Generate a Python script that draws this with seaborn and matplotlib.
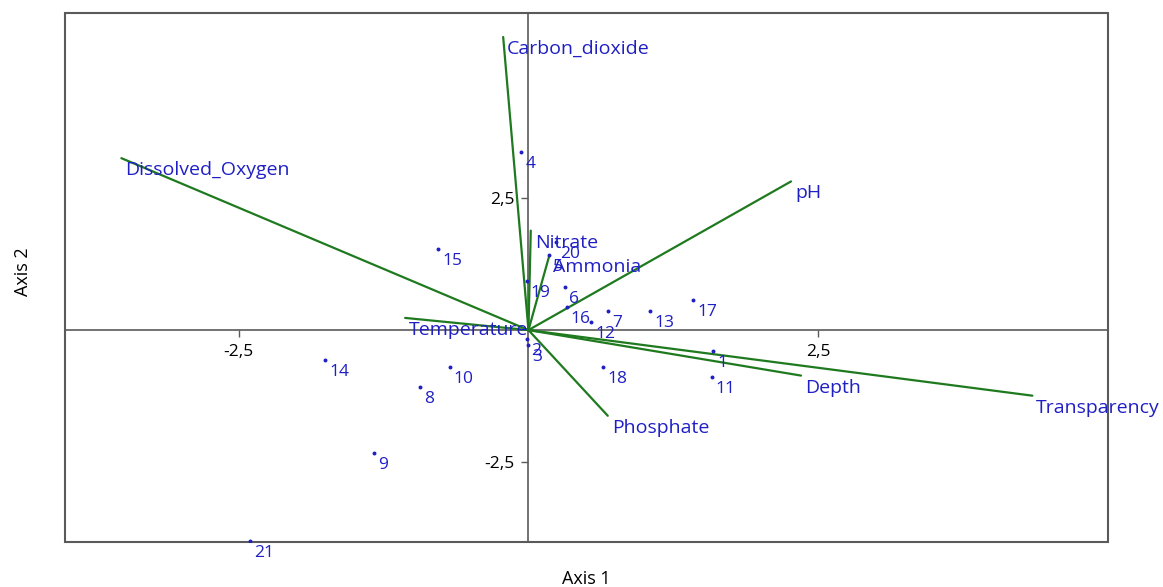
import numpy as np
import pandas as pd
import matplotlib
matplotlib.use("Agg")
import matplotlib.pyplot as plt
from matplotlib.patches import Rectangle
import seaborn as sns

# Sample scores on the first two principal axes
sample_ids = ["1", "2", "3", "4", "5", "6", "7", "8", "9", "10", "11",
              "12", "13", "14", "15", "16", "17", "18", "19", "20", "21"]
axis1_scores = [1.595, -0.014, 0.0, -0.063, 0.18, 0.316, 0.69, -0.934, -1.334, -0.68, 1.58,
                0.54, 1.049, -1.75, -0.776, 0.33, 1.42, 0.647, -0.014, 0.24, -2.40]
axis2_scores = [-0.39, -0.17, -0.28, 3.37, 1.41, 0.81, 0.36, -1.08, -2.32, -0.69, -0.88,
                0.15, 0.37, -0.57, 1.53, 0.44, 0.57, -0.70, 0.93, 1.67, -3.98]

# Variable loadings (biplot vectors)
variables = ["Carbon_dioxide", "Dissolved_Oxygen", "pH", "Nitrate", "Ammonia",
             "Temperature", "Phosphate", "Depth", "Transparency"]
axis1_loadings = [-0.218, -3.51, 2.264, 0.02, 0.18, -1.063, 0.684, 2.35, 4.345]
axis2_loadings = [5.54, 3.25, 2.81, 1.88, 1.41, 0.23, -1.62, -0.86, -1.24]

tick_values = [-2.5, 2.5]
tick_labels = ["-2,5", "2,5"]

label_blue = "#1f1fc4"
vector_green = "#1f7a1f"
axis_grey = "#5a5a5a"

sns.set_style("white")
plt.rcParams["font.family"] = ["Open Sans", "DejaVu Sans"]

fig = plt.figure(figsize=(11.63, 5.87), dpi=100)
ax = fig.add_axes([0.0555, 0.0772, 0.8975, 0.9012])

scores = pd.DataFrame({"id": sample_ids, "Axis 1": axis1_scores, "Axis 2": axis2_scores})

# Each vector is a two-point segment from the origin to its loading
segments = pd.DataFrame({
    "variable": np.repeat(variables, 2),
    "Axis 1": np.ravel(np.column_stack([np.zeros(len(variables)), axis1_loadings])),
    "Axis 2": np.ravel(np.column_stack([np.zeros(len(variables)), axis2_loadings])),
})

sns.lineplot(data=segments, x="Axis 1", y="Axis 2", units="variable",
             estimator=None, sort=False, color=vector_green, linewidth=1.6,
             ax=ax, zorder=3)
sns.scatterplot(data=scores, x="Axis 1", y="Axis 2", color=label_blue,
                s=8, linewidth=0, ax=ax, zorder=4)

for name, x, y in zip(variables, axis1_loadings, axis2_loadings):
    ax.annotate(name, (x, y), xytext=(4, -12), textcoords="offset pixels",
                ha="left", va="center", color=label_blue, fontsize=14,
                fontweight="medium", annotation_clip=False, zorder=5)

for sid, x, y in zip(sample_ids, axis1_scores, axis2_scores):
    ax.annotate(sid, (x, y), xytext=(4, -12), textcoords="offset pixels",
                ha="left", va="center", color=label_blue, fontsize=12.5,
                fontweight="medium", annotation_clip=False, zorder=5)

ax.set_xlim(-4, 5)
ax.set_ylim(-4, 6)

# Axes cross at the origin; an outer box frames the plot
for side in ["top", "right"]:
    ax.spines[side].set_visible(False)
for side in ["left", "bottom"]:
    ax.spines[side].set_position(("data", 0))
    ax.spines[side].set_color(axis_grey)
    ax.spines[side].set_linewidth(1.2)
    ax.spines[side].set_zorder(2)
ax.add_patch(Rectangle((0, 0), 1, 1, transform=ax.transAxes, fill=False,
                       edgecolor=axis_grey, linewidth=1.5, clip_on=False, zorder=1))

ax.set_xticks(tick_values, tick_labels)
ax.set_yticks(tick_values, tick_labels)
ax.tick_params(bottom=True, left=True, direction="out", length=5, width=1,
               color=axis_grey, labelcolor="black", labelsize=12.5, pad=5)

ax.set_xlabel("Axis 1", fontsize=13, color="black", fontweight="medium")
ax.set_ylabel("Axis 2", fontsize=13, color="black", fontweight="medium")
ax.xaxis.set_label_coords(0.5, -0.054)
ax.yaxis.set_label_coords(-0.031, 0.51)

fig.savefig("out.png", dpi=100)
